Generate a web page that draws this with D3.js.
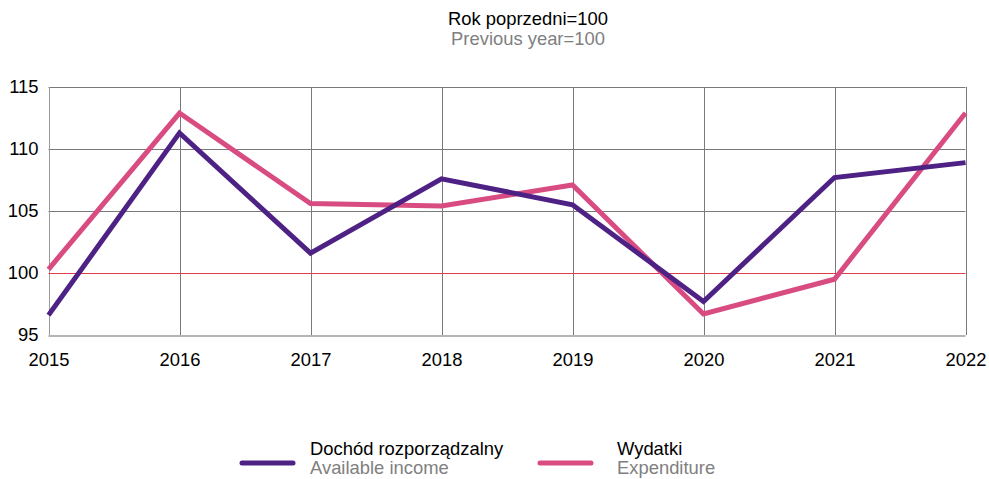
<!DOCTYPE html>
<html>
<head>
<meta charset="utf-8">
<script src="https://cdn.jsdelivr.net/npm/d3@7"></script>
<style>
  html, body { margin: 0; padding: 0; background: #fff; }
  svg { display: block; font-family: "Liberation Sans", Arial, sans-serif; }
</style>
</head>
<body>
<svg id="chart" width="989" height="479"></svg>
<script>
// Years on the horizontal axis
const years = ["2015", "2016", "2017", "2018", "2019", "2020", "2021", "2022"];
// Indices, previous year = 100
const incomeValues = [96.6, 111.3, 101.6, 107.6, 105.5, 97.7, 107.7, 108.9];
const expenditureValues = [100.3, 112.9, 105.6, 105.4, 107.1, 96.7, 99.5, 112.9];
const yTicks = [95, 100, 105, 110, 115];

const seriesNames = [
  { pl: "Dochód rozporządzalny", en: "Available income", color: "#4e2184", values: incomeValues },
  { pl: "Wydatki", en: "Expenditure", color: "#d84c82", values: expenditureValues }
];

const fontSize = 18.4;
const svg = d3.select("#chart");
const plotLeft = 48.5, plotRight = 965.5, plotTop = 87, plotBottom = 335;

const x = d3.scalePoint().domain(years).range([plotLeft, plotRight]);
const y = d3.scaleLinear().domain([95, 115]).range([plotBottom, plotTop]);

// Title
svg.append("text").attr("x", 528).attr("y", 25).attr("text-anchor", "middle")
  .attr("font-size", fontSize).attr("fill", "#000").text("Rok poprzedni=100");
svg.append("text").attr("x", 528).attr("y", 45).attr("text-anchor", "middle")
  .attr("font-size", fontSize).attr("fill", "#808080").text("Previous year=100");

// Horizontal gridlines
svg.append("g").selectAll("line").data(yTicks.filter(d => d !== 95 && d !== 100)).join("line")
  .attr("x1", plotLeft).attr("x2", plotRight)
  .attr("y1", d => Math.round(y(d)) + 0.5).attr("y2", d => Math.round(y(d)) + 0.5)
  .attr("stroke", "#7a7a7a").attr("stroke-width", 1);

// Vertical gridlines
svg.append("g").selectAll("line").data(years).join("line")
  .attr("x1", d => Math.round(x(d)) + 0.5).attr("x2", d => Math.round(x(d)) + 0.5)
  .attr("y1", plotTop).attr("y2", plotBottom)
  .attr("stroke", d => d === years[0] ? "#9a9a9a" : "#7a7a7a").attr("stroke-width", 1);

// Reference line at 100
svg.append("line")
  .attr("x1", plotLeft).attr("x2", plotRight)
  .attr("y1", Math.round(y(100)) + 0.5).attr("y2", Math.round(y(100)) + 0.5)
  .attr("stroke", "#e03c4a").attr("stroke-width", 1);

// Bottom axis line
svg.append("line")
  .attr("x1", plotLeft).attr("x2", plotRight)
  .attr("y1", y(95) + 1).attr("y2", y(95) + 1)
  .attr("stroke", "#b4b4b4").attr("stroke-width", 2);

// Y axis labels
const yAxis = d3.axisLeft(y).tickValues(yTicks).tickSize(0).tickPadding(10);
const gy = svg.append("g").attr("transform", `translate(${plotLeft},0)`).call(yAxis);
gy.select(".domain").remove();
gy.selectAll("text").attr("font-size", fontSize).attr("fill", "#000")
  .attr("font-family", "Liberation Sans, Arial, sans-serif");

// X axis labels
const xAxis = d3.axisBottom(x).tickSize(0).tickPadding(18);
const gx = svg.append("g").attr("transform", `translate(0,${plotBottom})`).call(xAxis);
gx.select(".domain").remove();
gx.selectAll("text").attr("font-size", fontSize).attr("fill", "#000")
  .attr("font-family", "Liberation Sans, Arial, sans-serif");

// Series lines
const line = d3.line().x((d, i) => x(years[i])).y(d => y(d));
seriesNames.slice().reverse().forEach(s => {
  svg.append("path").datum(s.values)
    .attr("d", line).attr("fill", "none")
    .attr("stroke", s.color).attr("stroke-width", 5)
    .attr("stroke-linejoin", "miter").attr("stroke-linecap", "butt");
});

// Legend
const legendX = [242, 540];
seriesNames.forEach((s, i) => {
  const g = svg.append("g").attr("transform", `translate(${legendX[i]},0)`);
  g.append("line").attr("x1", 0).attr("x2", 51).attr("y1", 463).attr("y2", 463)
    .attr("stroke", s.color).attr("stroke-width", 5).attr("stroke-linecap", "round");
  g.append("text").attr("x", i === 0 ? 68 : 77).attr("y", 455).attr("font-size", fontSize)
    .attr("fill", "#000").text(s.pl);
  g.append("text").attr("x", i === 0 ? 68 : 77).attr("y", 474).attr("font-size", fontSize)
    .attr("fill", "#808080").text(s.en);
});
</script>
</body>
</html>
